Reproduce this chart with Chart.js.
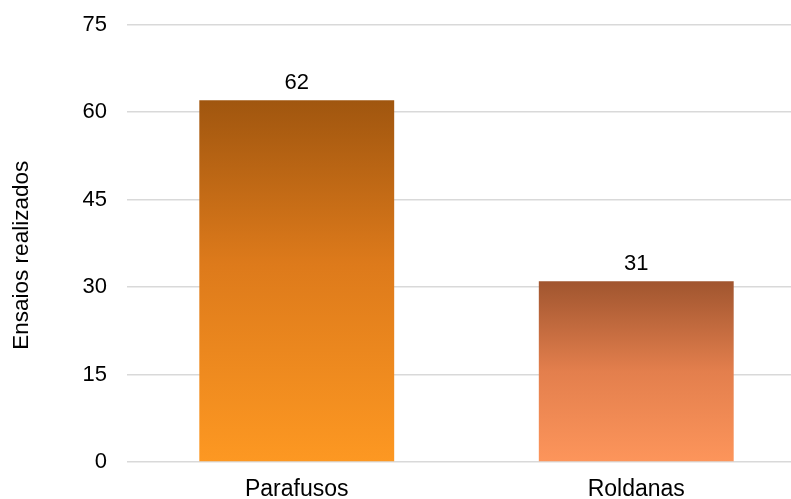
<!DOCTYPE html>
<html>
<head>
<meta charset="utf-8">
<script src="https://cdn.jsdelivr.net/npm/chart.js@4.4.1/dist/chart.umd.min.js"></script>
<style>
  html, body { margin: 0; padding: 0; background: #ffffff; overflow: hidden; }
  #wrap { position: relative; width: 806px; height: 499px; }
</style>
</head>
<body>
<div id="wrap"><canvas id="c"></canvas></div>
<script>
const categories = ["Parafusos", "Roldanas"];
const ensaios = [62, 31];
const yTicks = [0, 15, 30, 45, 60, 75];
const yTitle = "Ensaios realizados";

const gradientStops = [
  [[0, "#A0560F"], [0.45, "#DD7A1B"], [1, "#FD9822"]],
  [[0, "#A0552F"], [0.5, "#E37F4D"], [1, "#FD955B"]]
];
const fallbackColors = ["#E07F1E", "#E37F4D"];

const FONT = "'Liberation Sans', Arial, sans-serif";

const valueLabels = {
  id: "valueLabels",
  afterDatasetsDraw(chart) {
    const ctx = chart.ctx;
    const meta = chart.getDatasetMeta(0);
    ctx.save();
    ctx.font = "22px " + FONT;
    ctx.fillStyle = "#000000";
    ctx.textAlign = "center";
    ctx.textBaseline = "alphabetic";
    meta.data.forEach((bar, i) => {
      ctx.fillText(String(chart.data.datasets[0].data[i]), bar.x, bar.y - 11);
    });
    ctx.restore();
  }
};

const yAxisTitle = {
  id: "yAxisTitle",
  afterDraw(chart) {
    const ctx = chart.ctx;
    const area = chart.chartArea;
    ctx.save();
    ctx.font = "22.5px " + FONT;
    ctx.fillStyle = "#000000";
    ctx.textAlign = "center";
    ctx.textBaseline = "middle";
    ctx.translate(22, (area.top + area.bottom) / 2 + 12);
    ctx.rotate(-Math.PI / 2);
    ctx.fillText(yTitle, 0, 0);
    ctx.restore();
  }
};

new Chart(document.getElementById("c"), {
  type: "bar",
  data: {
    labels: categories,
    datasets: [{
      data: ensaios,
      backgroundColor(context) {
        const chart = context.chart;
        const i = context.dataIndex;
        const ys = chart.scales && chart.scales.y;
        if (!chart.chartArea || !ys || i === undefined) return fallbackColors[i || 0];
        const top = ys.getPixelForValue(ensaios[i]);
        const bottom = ys.getPixelForValue(0);
        const g = chart.ctx.createLinearGradient(0, top, 0, bottom);
        gradientStops[i].forEach(([o, c]) => g.addColorStop(o, c));
        return g;
      },
      borderWidth: 0,
      barPercentage: 0.574,
      categoryPercentage: 1
    }]
  },
  options: {
    responsive: true,
    maintainAspectRatio: false,
    animation: false,
    devicePixelRatio: 1,
    layout: { padding: { top: 24.5, right: 0, bottom: 0, left: 0 } },
    plugins: { legend: { display: false }, tooltip: { enabled: false } },
    scales: {
      x: {
        grid: { display: false, drawTicks: false },
        border: { display: false },
        ticks: { color: "#000000", font: { family: FONT, size: 23 }, padding: 14 },
        afterFit(axis) { axis.height = 37; }
      },
      y: {
        min: 0, max: 75,
        afterBuildTicks(axis) { axis.ticks = yTicks.map(v => ({ value: v })); },
        grid: { color: "#D9D9D9", lineWidth: 1.5, drawTicks: false },
        border: { display: false },
        ticks: { color: "#000000", font: { family: FONT, size: 22 }, padding: 20 },
        title: { display: false, text: yTitle },
        afterFit(axis) {
          axis.width = 127;
          axis.paddingTop = 0;
          axis.paddingBottom = 0;
        }
      }
    }
  },
  plugins: [valueLabels, yAxisTitle]
});
</script>
</body>
</html>
